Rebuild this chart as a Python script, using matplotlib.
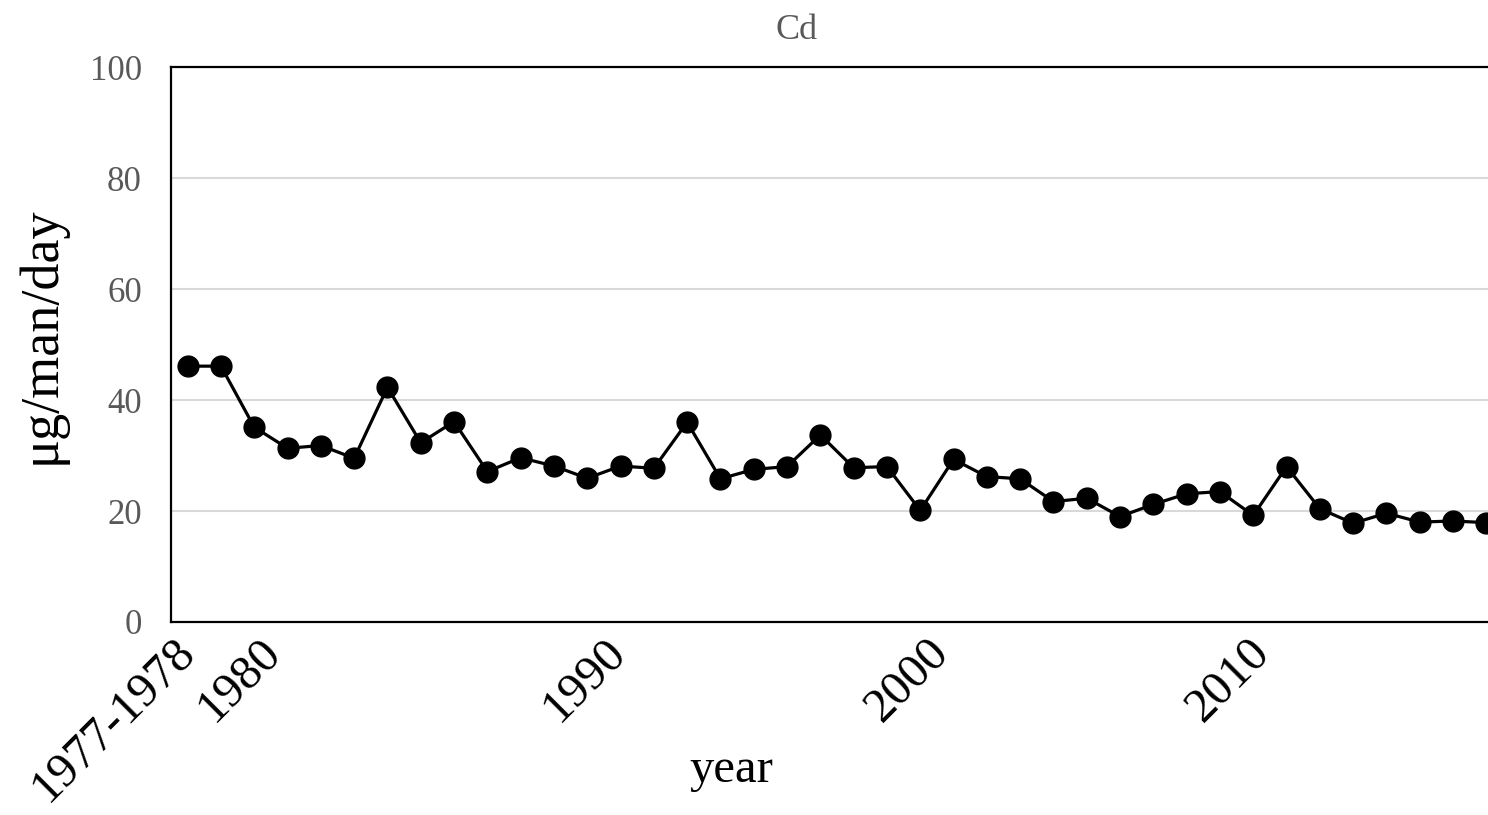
import matplotlib
matplotlib.use("Agg")
import matplotlib.pyplot as plt
import matplotlib.transforms as mtransforms
import numpy as np

# ---- data ----
categories = ["1977-1978"] + [str(y) for y in range(1979, 2018)]
cd_values = [46.1, 46.1, 35.1, 31.3, 31.8, 29.5, 42.3, 32.3, 36.1, 27.1,
             29.6, 28.1, 25.9, 28.1, 27.7, 36.0, 25.8, 27.5, 28.0, 33.7,
             27.8, 28.0, 20.1, 29.3, 26.2, 25.8, 21.7, 22.3, 19.0, 21.2,
             23.1, 23.5, 19.2, 28.0, 20.4, 17.8, 19.6, 18.0, 18.2, 17.9]
shown_labels = ["1977-1978", "1980", "1990", "2000", "2010"]
y_ticks = [0, 20, 40, 60, 80, 100]

plt.rcParams['font.family'] = ['Liberation Serif', 'DejaVu Serif']

W, H = 1488, 815
fig = plt.figure(figsize=(W / 100, H / 100), dpi=100)
left_px, right_px, top_px, bot_px = 171, 1503, 67, 622
ax = fig.add_axes([left_px / W, 1 - bot_px / H, (right_px - left_px) / W, (bot_px - top_px) / H])

x = np.arange(len(categories))
ax.plot(x, cd_values, color='black', lw=2.3, marker='o', markersize=15,
        markerfacecolor='black', markeredgecolor='black', zorder=3, clip_on=False)

ax.set_xlim(-0.5, len(categories) - 0.5)
ax.set_ylim(0, 100)
ax.set_yticks(y_ticks)
ax.set_yticklabels([str(v) for v in y_ticks], fontsize=25, color='#595959')
ax.grid(axis='y', color='#d9d9d9', lw=1.5)
ax.set_axisbelow(True)

tick_pos = [categories.index(l) for l in shown_labels]
ax.set_xticks(tick_pos)
ax.set_xticklabels(shown_labels, fontsize=35, rotation=45, ha='right', va='top',
                   rotation_mode='anchor')
ax.tick_params(axis='both', length=0)
ax.tick_params(axis='y', pad=21)
ax.tick_params(axis='x', pad=6)

offsets_px = [-15, 4, 16, 6, -6]
for lab, dx in zip(ax.get_xticklabels(), offsets_px):
    lab.set_transform(lab.get_transform() + mtransforms.ScaledTranslation(dx / 100, 0, fig.dpi_scale_trans))

for s in ['left', 'bottom', 'top', 'right']:
    ax.spines[s].set_color('black')
    ax.spines[s].set_linewidth(1.6)

ax.set_title("Cd", fontsize=26, color='#595959', pad=20,
             x=(797 - left_px) / (right_px - left_px))
ax.set_xlabel("year", fontsize=35, labelpad=0)
ax.set_ylabel("μg/man/day", fontsize=39, labelpad=20)
ax.xaxis.set_label_coords((731 - left_px) / (right_px - left_px), -(748 - bot_px) / (bot_px - top_px))
ax.yaxis.set_label_coords(-(172 - 68) / (right_px - left_px), (bot_px - 335) / (bot_px - top_px))

fig.savefig("out.png", dpi=100, facecolor='white')
